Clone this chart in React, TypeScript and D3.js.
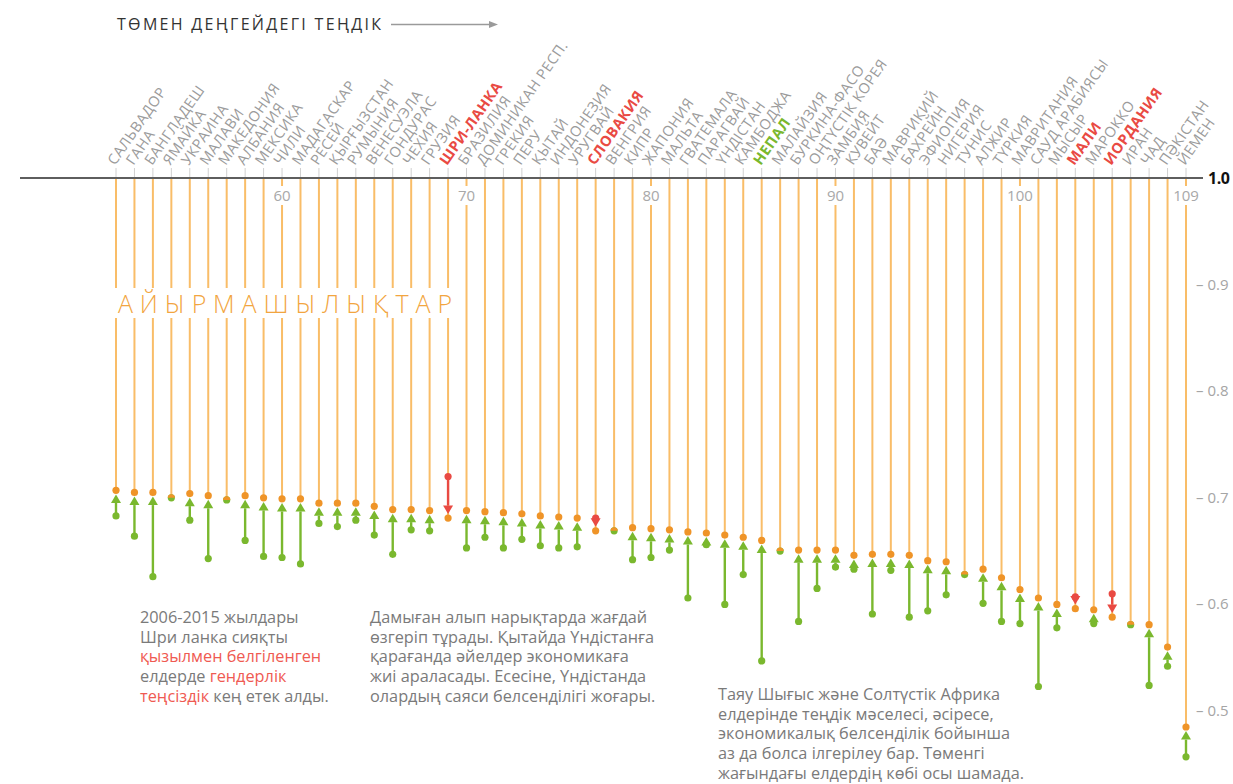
import React from "react"
import * as d3 from "d3"

// rank 51 .. 109, ordered as in the picture
const countries = [
	"САЛЬВАДОР", "ГАНА", "БАНГЛАДЕШ", "ЯМАЙКА", "УКРАИНА", "МАЛАВИ", "МАКЕДОНИЯ", "АЛБАНИЯ",
	"МЕКСИКА", "ЧИЛИ", "МАДАГАСКАР", "РЕСЕЙ", "ҚЫРҒЫЗСТАН", "РУМЫНИЯ", "ВЕНЕСУЭЛА", "ГОНДУРАС",
	"ЧЕХИЯ", "ГРУЗИЯ", "ШРИ-ЛАНКА", "БРАЗИЛИЯ", "ДОМИНИКАН РЕСП.", "ГРЕКИЯ", "ПЕРУ", "ҚЫТАЙ",
	"ИНДОНЕЗИЯ", "УРУГВАЙ", "СЛОВАКИЯ", "ВЕНГРИЯ", "КИПР", "ЖАПОНИЯ", "МАЛЬТА", "ГВАТЕМАЛА",
	"ПАРАГВАЙ", "ҮНДІСТАН", "КАМБОДЖА", "НЕПАЛ", "МАЛАЙЗИЯ", "БУРКИНА-ФАСО", "ОҢТҮСТІК КОРЕЯ", "ЗАМБИЯ",
	"КУВЕЙТ", "БАӘ", "МАВРИКИЙ", "БАХРЕЙН", "ЭФИОПИЯ", "НИГЕРИЯ", "ТУНИС", "АЛЖИР",
	"ТҮРКИЯ", "МАВРИТАНИЯ", "САУД АРАБИЯСЫ", "МЫСЫР", "МАЛИ", "МАРОККО", "ИОРДАНИЯ", "ИРАН",
	"ЧАД", "ПӘКІСТАН", "ЙЕМЕН",
]
const score2015 = [
	0.707, 0.705, 0.705, 0.700, 0.704, 0.702, 0.698, 0.702,
	0.700, 0.699, 0.699, 0.695, 0.695, 0.695, 0.692, 0.689,
	0.689, 0.688, 0.681, 0.688, 0.687, 0.686, 0.685, 0.683,
	0.682, 0.681, 0.669, 0.669, 0.672, 0.671, 0.670, 0.668,
	0.667, 0.665, 0.663, 0.660, 0.650, 0.651, 0.651, 0.651,
	0.646, 0.647, 0.647, 0.646, 0.641, 0.640, 0.628, 0.633,
	0.625, 0.614, 0.606, 0.600, 0.596, 0.595, 0.588, 0.581,
	0.581, 0.560, 0.485,
]
const score2006 = [
	0.683, 0.664, 0.626, 0.700, 0.679, 0.643, 0.698, 0.660,
	0.645, 0.644, 0.638, 0.676, 0.673, 0.679, 0.665, 0.647,
	0.670, 0.669, 0.720, 0.653, 0.663, 0.653, 0.661, 0.655,
	0.653, 0.654, 0.681, 0.669, 0.642, 0.644, 0.651, 0.606,
	0.656, 0.600, 0.628, 0.547, 0.650, 0.584, 0.615, 0.635,
	0.633, 0.591, 0.632, 0.588, 0.594, 0.609, 0.628, 0.601,
	0.584, 0.582, 0.523, 0.578, 0.607, 0.582, 0.610, 0.581,
	0.524, 0.542, 0.457,
]
const redNames = ["ШРИ-ЛАНКА", "СЛОВАКИЯ", "МАЛИ", "ИОРДАНИЯ"]
const greenNames = ["НЕПАЛ"]
const firstRank = 51
const rankTicks = [60, 70, 80, 90, 100, 109]
const scoreTicks = [0.9, 0.8, 0.7, 0.6, 0.5]

const title = "ТӨМЕН ДЕҢГЕЙДЕГІ ТЕҢДІК"
const bigWord = "АЙЫРМАШЫЛЫҚТАР"

// [text, highlighted?]
const note1: [string, boolean][][] = [
	[["2006-2015 жылдары", false]],
	[["Шри ланка сияқты", false]],
	[["қызылмен белгіленген", true]],
	[["елдерде ", false], ["гендерлік", true]],
	[["теңсіздік", true], [" кең етек алды.", false]],
]
const note2 = [
	"Дамыған алып нарықтарда жағдай",
	"өзгеріп тұрады. Қытайда Үндістанға",
	"қарағанда әйелдер экономикаға",
	"жиі араласады. Есесіне, Үндістанда",
	"олардың саяси белсенділігі жоғары.",
]
const note3 = [
	"Таяу Шығыс және Солтүстік Африка",
	"елдерінде теңдік мәселесі, әсіресе,",
	"экономикалық белсенділік бойынша",
	"аз да болса ілгерілеу бар. Төменгі",
	"жағындағы елдердің көбі осы шамада.",
]

const orangeLine = "#f9bd68"
const orangeDot = "#ef9428"
const green = "#7ab82e"
const red = "#e94a43"
const grey = "#7a7a7a"
const font = "'Open Sans', 'Noto Sans', sans-serif"

const App: React.FC = () => {
	const width = 1233
	const height = 784
	const axisY = 178

	const x = d3.scaleLinear().domain([firstRank, firstRank + countries.length - 1]).range([116, 1186])
	const y = d3.scaleLinear().domain([0.5, 1.0]).range([711, axisY])

	const rows = countries.map((name, i) => ({
		name,
		rank: firstRank + i,
		v15: score2015[i],
		v06: score2006[i],
	}))

	const r = 3.6
	const headH = 8.5
	const headW = 5

	return (
		<div style={{ position: "fixed", left: 0, top: 0 }}>
			<svg width={width} height={height} style={{ display: "block", background: "#fff" }} fontFamily={font}>
				{/* title + arrow */}
				<text x={117} y={30} fontSize={16} letterSpacing={2.3} fill="#333">
					{title}
				</text>
				<line x1={391} x2={490} y1={24.5} y2={24.5} stroke="#9a9a9a" strokeWidth={1.3} />
				<path d="M489,21 L498,24.5 L489,28 Z" fill="#9a9a9a" />

				{/* short grey ticks above the axis */}
				{rows.map((d) => (
					<line key={"g" + d.rank} x1={x(d.rank)} x2={x(d.rank)} y1={168} y2={axisY} stroke="#d0d0d0" strokeWidth={1} />
				))}

				{/* country labels */}
				{rows.map((d) => {
					const isRed = redNames.includes(d.name)
					const isGreen = greenNames.includes(d.name)
					return (
						<text
							key={"l" + d.rank}
							transform={`translate(${x(d.rank) - 1},${166}) rotate(-55)`}
							fontSize={14.5}
							letterSpacing={0.5}
							fontWeight={isRed || isGreen ? 700 : 400}
							fill={isRed ? red : isGreen ? green : "#9b9b9b"}>
							{d.name}
						</text>
					)
				})}

				{/* orange drop lines */}
				{rows.map((d) => (
					<line key={"o" + d.rank} x1={x(d.rank)} x2={x(d.rank)} y1={axisY} y2={y(d.v15)} stroke={orangeLine} strokeWidth={2} />
				))}

				{/* axis line */}
				<line x1={20} x2={1203} y1={axisY} y2={axisY} stroke="#5e5e5e" strokeWidth={2} />
				<text x={1208} y={184} fontSize={16} fontWeight={700} fill="#111" letterSpacing={-0.5}>
					1.0
				</text>

				{/* rank ticks */}
				{rankTicks.map((t) => (
					<g key={"t" + t}>
						<rect x={x(t) - 14} y={186} width={28} height={19} fill="#fff" />
						<text x={x(t)} y={201} textAnchor="middle" fontSize={15} fill="#a8a8a8">
							{t}
						</text>
					</g>
				))}

				{/* score ticks on the right */}
				{scoreTicks.map((t) => (
					<text key={"s" + t} x={1196} y={y(t) + 5} fontSize={15} fill="#a5a5a5">
						{"– " + d3.format(".1f")(t)}
					</text>
				))}

				{/* big orange word with white band behind */}
				<rect x={104} y={288} width={354} height={30} fill="#fff" />
				<text x={118} y={313} fontSize={25} fontWeight={300} fill="#f2a540" textLength={334} lengthAdjust="spacing">
					{bigWord}
				</text>

				{/* arrows 2006 -> 2015 */}
				{rows.map((d) => {
					const cx = x(d.rank)
					const y15 = y(d.v15)
					const y06 = y(d.v06)
					if (Math.abs(y06 - y15) < 1.5) {
						return (
							<g key={"a" + d.rank}>
								<circle cx={cx} cy={y15} r={r} fill={green} />
								<path d={`M${cx - r},${y15} A${r},${r} 0 0 1 ${cx + r},${y15} Z`} fill={orangeDot} />
							</g>
						)
					}
					if (d.v15 > d.v06) {
						const tip = y15 + r + 0.5
						return (
							<g key={"a" + d.rank}>
								<line x1={cx} x2={cx} y1={y06} y2={tip + headH} stroke={green} strokeWidth={2.4} />
								<circle cx={cx} cy={y06} r={r} fill={green} />
								<path d={`M${cx},${tip} L${cx + headW},${tip + headH} L${cx - headW},${tip + headH} Z`} fill={green} />
								<circle cx={cx} cy={y15} r={r} fill={orangeDot} />
							</g>
						)
					}
					const tip = y15 - r - 0.5
					return (
						<g key={"a" + d.rank}>
							<line x1={cx} x2={cx} y1={y06} y2={tip - headH} stroke={red} strokeWidth={2.4} />
							<circle cx={cx} cy={y06} r={r} fill={red} />
							<path d={`M${cx},${tip} L${cx + headW},${tip - headH} L${cx - headW},${tip - headH} Z`} fill={red} />
							<circle cx={cx} cy={y15} r={r} fill={orangeDot} />
						</g>
					)
				})}

				{/* notes */}
				<g fontSize={16.3} fill={grey}>
					{note1.map((line, i) => (
						<text key={"n1" + i} x={140} y={623 + i * 19.7}>
							{line.map(([s, hi], j) => (
								<tspan key={j} fill={hi ? "#ef5a52" : grey}>
									{s}
								</tspan>
							))}
						</text>
					))}
					{note2.map((s, i) => (
						<text key={"n2" + i} x={370} y={623 + i * 19.7}>
							{s}
						</text>
					))}
					{note3.map((s, i) => (
						<text key={"n3" + i} x={718} y={700 + i * 19.7}>
							{s}
						</text>
					))}
				</g>
			</svg>
		</div>
	)
}

export default App
